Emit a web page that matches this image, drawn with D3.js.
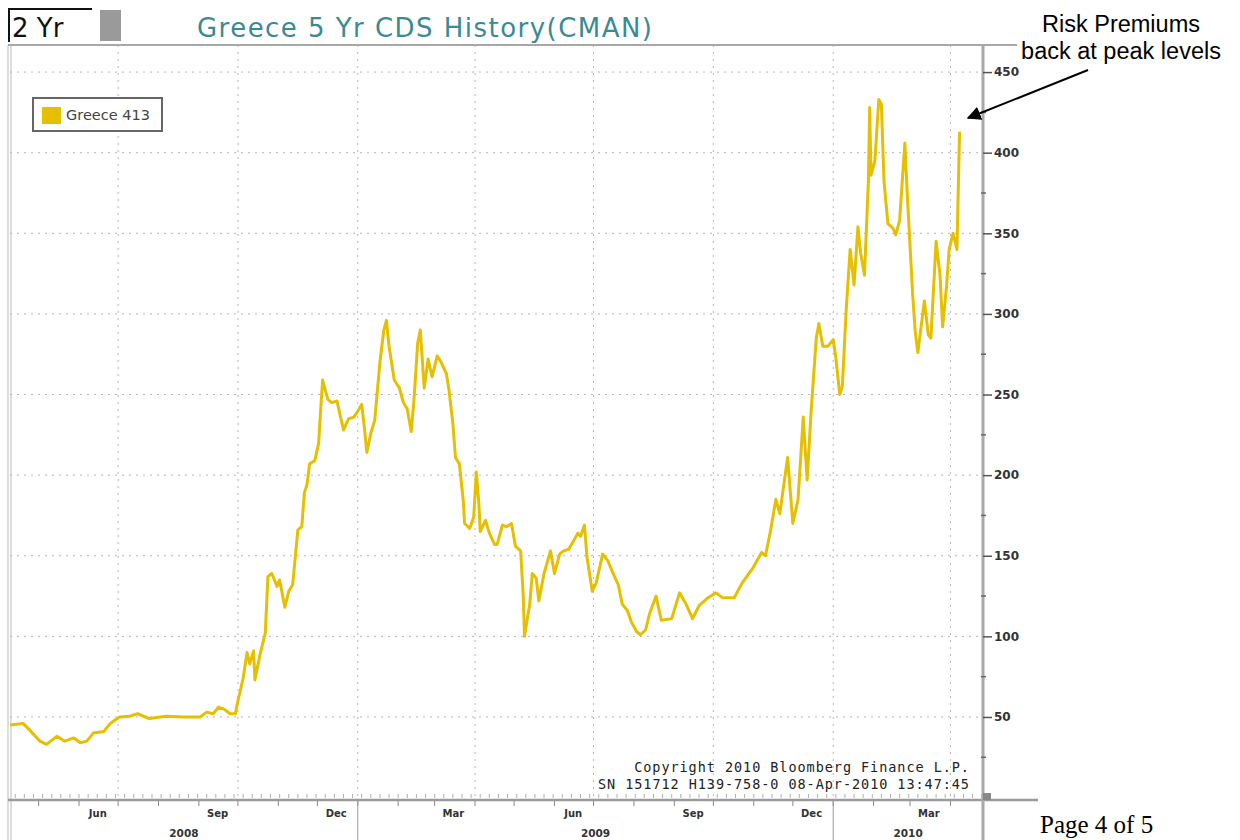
<!DOCTYPE html>
<html>
<head>
<meta charset="utf-8">
<script src="https://cdn.jsdelivr.net/npm/d3@7"></script>
<style>
  body { margin: 0; background: #fff; }
  svg { display: block; }
</style>
</head>
<body>
<div id="chart"></div>
<script>
// Greece 5 Yr CDS
const cdsDates = [
  "2008-04-09","2008-04-19","2008-04-24","2008-05-02","2008-05-07","2008-05-15","2008-05-21","2008-05-28",
  "2008-06-02","2008-06-07","2008-06-12","2008-06-20","2008-06-25","2008-07-02","2008-07-10","2008-07-16",
  "2008-07-25","2008-08-07","2008-08-20","2008-09-02","2008-09-07","2008-09-12","2008-09-16","2008-09-20",
  "2008-09-25","2008-09-29","2008-10-01","2008-10-05","2008-10-08","2008-10-10","2008-10-13","2008-10-14",
  "2008-10-18","2008-10-22","2008-10-24","2008-10-27","2008-10-31","2008-11-02","2008-11-06","2008-11-09",
  "2008-11-12","2008-11-16","2008-11-19","2008-11-21","2008-11-23","2008-11-25","2008-11-29","2008-12-02",
  "2008-12-03","2008-12-05","2008-12-09","2008-12-12","2008-12-16","2008-12-21","2008-12-25","2008-12-29",
  "2009-01-02","2009-01-04","2009-01-06","2009-01-08","2009-01-11","2009-01-14","2009-01-18","2009-01-21",
  "2009-01-23","2009-01-25","2009-01-29","2009-02-02","2009-02-05","2009-02-08","2009-02-11","2009-02-13",
  "2009-02-16","2009-02-18","2009-02-21","2009-02-24","2009-02-27","2009-03-03","2009-03-06","2009-03-10",
  "2009-03-12","2009-03-15","2009-03-17","2009-03-20","2009-03-23","2009-03-24","2009-03-28","2009-03-31",
  "2009-04-02","2009-04-04","2009-04-05","2009-04-09","2009-04-12","2009-04-16","2009-04-18","2009-04-22",
  "2009-04-25","2009-04-29","2009-05-02","2009-05-06","2009-05-08","2009-05-09","2009-05-13","2009-05-15",
  "2009-05-18","2009-05-20","2009-05-24","2009-05-29","2009-06-01","2009-06-05","2009-06-08","2009-06-12",
  "2009-06-19","2009-06-21","2009-06-24","2009-06-26","2009-06-30","2009-07-03","2009-07-08","2009-07-12",
  "2009-07-16","2009-07-20","2009-07-23","2009-07-27","2009-07-30","2009-08-03","2009-08-06","2009-08-10",
  "2009-08-13","2009-08-18","2009-08-22","2009-08-30","2009-09-05","2009-09-10","2009-09-15","2009-09-20",
  "2009-09-27","2009-10-03","2009-10-08","2009-10-17","2009-10-23","2009-10-31","2009-11-07","2009-11-10",
  "2009-11-14","2009-11-18","2009-11-21","2009-11-27","2009-12-01","2009-12-05","2009-12-09","2009-12-12",
  "2009-12-15","2009-12-19","2009-12-21","2009-12-24","2009-12-28","2010-01-01","2010-01-03","2010-01-06",
  "2010-01-08","2010-01-11","2010-01-14","2010-01-17","2010-01-20","2010-01-22","2010-01-25","2010-01-28",
  "2010-01-29","2010-01-30","2010-02-02","2010-02-05","2010-02-07","2010-02-09","2010-02-12","2010-02-16",
  "2010-02-18","2010-02-21","2010-02-25","2010-02-27","2010-03-03","2010-03-05","2010-03-07","2010-03-09",
  "2010-03-12","2010-03-15","2010-03-17","2010-03-21","2010-03-24","2010-03-26","2010-03-29","2010-03-31",
  "2010-04-03","2010-04-06","2010-04-08"
];
const cdsValues = [
  45, 46, 42, 35, 33, 38, 35, 37,
  34, 35, 40, 41, 46, 50, 50.5, 52,
  49, 50.5, 50, 50, 53, 52, 56, 55,
  52, 52, 60, 74, 90, 83, 91, 73,
  89, 102, 137, 139, 131, 135, 118, 128,
  132, 166, 168, 189, 194, 207, 209, 220,
  234, 259, 247, 245, 246, 228, 235, 236,
  241, 244, 230, 214, 226, 234, 270, 290,
  296, 280, 259, 254, 245, 241, 227, 245,
  282, 290, 254, 272, 261, 274, 270, 263,
  253, 232, 211, 207, 184, 170, 167, 174,
  202, 182, 165, 172, 164, 157, 157, 169,
  168, 170, 156, 153, 126, 100, 120, 139,
  136, 122, 139, 153, 139, 151, 153, 154,
  164, 162, 169, 149, 128, 133, 151, 147,
  139, 132, 120, 116, 109, 103, 101, 104,
  114, 125, 110, 111, 127, 120, 111, 119,
  124, 127, 124, 124, 133, 142, 152, 150,
  166, 185, 176, 211, 170, 185, 236, 197,
  239, 285, 294, 280, 280, 284, 273, 250,
  255, 303, 340, 318, 354, 338, 324, 382,
  428, 386, 395, 433, 430, 382, 356, 353,
  349, 358, 406, 372, 312, 289, 276, 289,
  308, 287, 285, 345, 324, 292, 317, 340,
  350, 340, 413
];

const yTicks = [50, 100, 150, 200, 250, 300, 350, 400, 450];
const yMinorTicks = [25, 75, 125, 175, 225, 275, 325, 375, 425];
const monthTickDates = ["2008-06-15","2008-09-15","2008-12-15","2009-03-15","2009-06-15","2009-09-15","2009-12-15","2010-03-15"];
const monthTickLabels = ["Jun","Sep","Dec","Mar","Jun","Sep","Dec","Mar"];
const yearLabels = ["2008","2009","2010"];
const yearStarts = ["2009-01-01","2010-01-01"];

const titleText = "Greece 5 Yr CDS History(CMAN)";
const legendText = "Greece 413";
const copyrightLines = ["Copyright 2010 Bloomberg Finance L.P.", "SN 151712 H139-758-0 08-Apr-2010 13:47:45"];
const noteLines = ["Risk Premiums", "back at peak levels"];

const parseDate = d3.timeParse("%Y-%m-%d");
const series = cdsDates.map((d, i) => ({ date: parseDate(d), value: cdsValues[i] }));

const width = 1240, height = 840;
const plotLeft = 10, plotRight = 983, plotTop = 45, plotBottom = 800;
const lineColor = "#e6bf00";

const svg = d3.select("#chart").append("svg")
    .attr("width", width)
    .attr("height", height)
    .style("font-family", "DejaVu Sans, sans-serif");

const xStart = parseDate("2008-04-09"), xEnd = parseDate("2010-04-26");
const x = d3.scaleTime().domain([xStart, xEnd]).range([plotLeft, plotRight]);
const y = d3.scaleLinear().domain([-1.5, 466.8]).range([plotBottom, plotTop]);

// header
svg.append("path")
    .attr("d", "M9,42 V9 H92")
    .attr("fill", "none")
    .attr("stroke", "#111")
    .attr("stroke-width", 2);
svg.append("text")
    .attr("x", 12).attr("y", 37)
    .style("font-size", "26px")
    .attr("fill", "#111")
    .text("2 Yr");
svg.append("rect")
    .attr("x", 100).attr("y", 10)
    .attr("width", 21).attr("height", 31)
    .attr("fill", "#9a9a9a");
svg.append("text")
    .attr("x", 197).attr("y", 37)
    .attr("textLength", 455)
    .attr("lengthAdjust", "spacing")
    .style("font-size", "26px")
    .attr("fill", "#3a8a95")
    .text(titleText);

// gridlines
const grid = svg.append("g")
    .attr("stroke", "#b4b4b4")
    .attr("stroke-width", 1)
    .attr("stroke-dasharray", "2,5");

grid.selectAll(".hgrid")
    .data(yTicks)
    .enter().append("line")
    .attr("x1", plotLeft).attr("x2", plotRight)
    .attr("y1", d => y(d)).attr("y2", d => y(d));

const quarterStarts = x.ticks(d3.timeMonth.every(3));
grid.selectAll(".vgrid")
    .data(quarterStarts)
    .enter().append("line")
    .attr("x1", d => x(d)).attr("x2", d => x(d))
    .attr("y1", plotTop).attr("y2", plotBottom);

// weekly ticks along the bottom of the plot
svg.append("g")
    .attr("stroke", "#b0b0b0")
    .selectAll("line")
    .data(x.ticks(d3.timeWeek))
    .enter().append("line")
    .attr("x1", d => x(d)).attr("x2", d => x(d))
    .attr("y1", plotBottom - 6).attr("y2", plotBottom - 2);

// frame
svg.append("line").attr("x1", 8).attr("x2", 8).attr("y1", plotTop).attr("y2", height)
    .attr("stroke", "#bbb");
svg.append("line").attr("x1", 11).attr("x2", 11).attr("y1", plotTop).attr("y2", height)
    .attr("stroke", "#bbb");
svg.append("line").attr("x1", 8).attr("x2", 1017).attr("y1", plotTop).attr("y2", plotTop)
    .attr("stroke", "#a8a8a8").attr("stroke-width", 2);
svg.append("line").attr("x1", 8).attr("x2", 1038).attr("y1", plotBottom).attr("y2", plotBottom)
    .attr("stroke", "#9a9a9a").attr("stroke-width", 2.5);
svg.append("line").attr("x1", plotRight).attr("x2", plotRight).attr("y1", plotTop).attr("y2", height)
    .attr("stroke", "#a8a8a8").attr("stroke-width", 3);
svg.append("rect").attr("x", plotRight).attr("y", plotBottom - 7).attr("width", 8).attr("height", 7)
    .attr("fill", "#888");

// right value axis
const yAxis = svg.append("g")
    .attr("transform", `translate(${plotRight},0)`)
    .call(d3.axisRight(y).tickValues(yTicks).tickSize(9).tickPadding(2).tickFormat(d3.format("d")));
yAxis.select(".domain").remove();
yAxis.selectAll(".tick line").attr("stroke", "#555").attr("stroke-width", 1.5);
yAxis.selectAll(".tick text")
    .attr("fill", "#333")
    .style("font-family", "DejaVu Sans, sans-serif")
    .style("font-size", "12px")
    .style("font-weight", "bold");

svg.append("g")
    .attr("stroke", "#666")
    .attr("stroke-width", 1.5)
    .selectAll("line")
    .data(yMinorTicks)
    .enter().append("line")
    .attr("x1", plotRight - 2).attr("x2", plotRight + 3)
    .attr("y1", d => y(d)).attr("y2", d => y(d));

// bottom time axis
svg.append("g")
    .attr("stroke", "#888")
    .selectAll("line")
    .data(x.ticks(d3.timeMonth))
    .enter().append("line")
    .attr("x1", d => x(d)).attr("x2", d => x(d))
    .attr("y1", plotBottom + 1).attr("y2", plotBottom + 6);

const xAxis = svg.append("g")
    .attr("transform", `translate(0,${plotBottom})`)
    .call(d3.axisBottom(x)
        .tickValues(monthTickDates.map(parseDate))
        .tickSize(0)
        .tickPadding(10)
        .tickFormat((d, i) => monthTickLabels[i]));
xAxis.select(".domain").remove();
xAxis.selectAll(".tick text")
    .attr("fill", "#333")
    .style("font-family", "DejaVu Sans, sans-serif")
    .style("font-size", "10px")
    .style("font-weight", "bold");

const yearBounds = [xStart].concat(yearStarts.map(parseDate), [xEnd]);
svg.append("g")
    .attr("stroke", "#999")
    .selectAll("line")
    .data(yearStarts.map(parseDate))
    .enter().append("line")
    .attr("x1", d => x(d)).attr("x2", d => x(d))
    .attr("y1", plotBottom).attr("y2", height);

svg.append("g")
    .selectAll("text")
    .data(yearLabels)
    .enter().append("text")
    .attr("x", (d, i) => (x(yearBounds[i]) + x(yearBounds[i + 1])) / 2)
    .attr("y", 837)
    .attr("text-anchor", "middle")
    .attr("fill", "#333")
    .style("font-size", "10.5px")
    .style("font-weight", "bold")
    .text(d => d);

// the series
const line = d3.line()
    .x(d => x(d.date))
    .y(d => y(d.value));

svg.append("path")
    .datum(series)
    .attr("d", line)
    .attr("fill", "none")
    .attr("stroke", lineColor)
    .attr("stroke-width", 3)
    .attr("stroke-linejoin", "round");

// legend
svg.append("rect")
    .attr("x", 33).attr("y", 98)
    .attr("width", 129).attr("height", 33)
    .attr("fill", "#fff")
    .attr("stroke", "#666")
    .attr("stroke-width", 2);
svg.append("rect")
    .attr("x", 42).attr("y", 107)
    .attr("width", 19).attr("height", 17)
    .attr("fill", lineColor);
svg.append("text")
    .attr("x", 66).attr("y", 120)
    .attr("fill", "#444")
    .style("font-size", "14.5px")
    .text(legendText);

// copyright, stretched to the monospaced width of the screen font
svg.append("g")
    .selectAll("text")
    .data(copyrightLines)
    .enter().append("text")
    .attr("x", 969)
    .attr("y", (d, i) => 772 + i * 17)
    .attr("text-anchor", "end")
    .attr("textLength", d => d.length * 9.05)
    .attr("lengthAdjust", "spacing")
    .attr("fill", "#222")
    .style("font-family", "DejaVu Sans Mono, monospace")
    .style("font-size", "13.5px")
    .text(d => d);

// annotation
svg.append("defs").append("marker")
    .attr("id", "arrowhead")
    .attr("viewBox", "0 0 10 10")
    .attr("refX", 9).attr("refY", 5)
    .attr("markerWidth", 7).attr("markerHeight", 7)
    .attr("orient", "auto")
    .append("path")
    .attr("d", "M0,0 L10,5 L0,10 z")
    .attr("fill", "#000");

svg.append("line")
    .attr("x1", 1088).attr("y1", 70)
    .attr("x2", 968).attr("y2", 118)
    .attr("stroke", "#000")
    .attr("stroke-width", 2)
    .attr("marker-end", "url(#arrowhead)");

svg.append("g")
    .selectAll("text")
    .data(noteLines)
    .enter().append("text")
    .attr("x", 1121)
    .attr("y", (d, i) => 32 + i * 27)
    .attr("text-anchor", "middle")
    .attr("fill", "#000")
    .style("font-family", "Liberation Sans, Arial, sans-serif")
    .style("font-size", "23.5px")
    .text(d => d);

svg.append("text")
    .attr("x", 1040).attr("y", 833)
    .attr("fill", "#000")
    .style("font-family", "Liberation Serif, Times New Roman, serif")
    .style("font-size", "25px")
    .text("Page 4 of 5");
</script>
</body>
</html>
